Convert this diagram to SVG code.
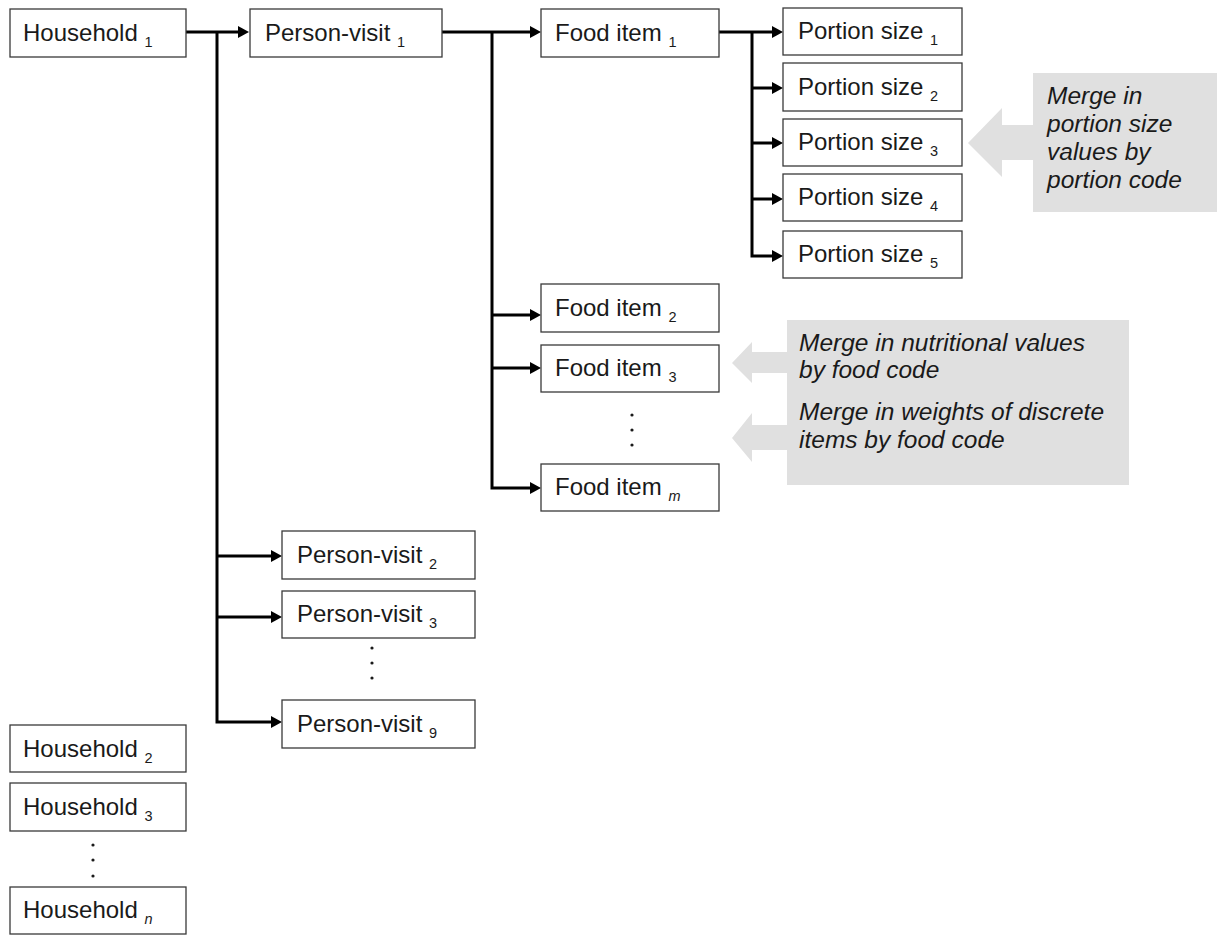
<svg xmlns="http://www.w3.org/2000/svg" width="1219" height="935" viewBox="0 0 1219 935">
<style>
.box{fill:#fff;stroke:#3a3a3a;stroke-width:1.3}
.t{font-family:"Liberation Sans",Arial,sans-serif;font-size:24px;fill:#1a1a1a}
.s{font-size:14.5px}
.it{font-family:"Liberation Sans",Arial,sans-serif;font-size:24.5px;font-style:italic;fill:#1a1a1a}
.c{fill:none;stroke:#000;stroke-width:3;stroke-linejoin:miter}
.g{fill:#e0e0e0}
.d{fill:#1a1a1a}
</style>
<defs>
<marker id="ah" viewBox="0 0 11 12" refX="0" refY="6" markerWidth="11" markerHeight="12" markerUnits="userSpaceOnUse" orient="auto">
<path d="M0,0 L11,6 L0,12 z" fill="#000"/>
</marker>
</defs>
<g id="connectors">
<path class="c" d="M186,32 H238" marker-end="url(#ah)"/>
<path class="c" d="M217,32 V722 H271" marker-end="url(#ah)"/>
<path class="c" d="M217,556 H271" marker-end="url(#ah)"/>
<path class="c" d="M217,617 H271" marker-end="url(#ah)"/>
<path class="c" d="M442,32 H530" marker-end="url(#ah)"/>
<path class="c" d="M492,32 V488 H530" marker-end="url(#ah)"/>
<path class="c" d="M492,315 H530" marker-end="url(#ah)"/>
<path class="c" d="M492,368 H530" marker-end="url(#ah)"/>
<path class="c" d="M719,32 H772" marker-end="url(#ah)"/>
<path class="c" d="M752,32 V256 H772" marker-end="url(#ah)"/>
<path class="c" d="M752,88 H772" marker-end="url(#ah)"/>
<path class="c" d="M752,143 H772" marker-end="url(#ah)"/>
<path class="c" d="M752,199 H772" marker-end="url(#ah)"/>
</g>
<g id="merge-portion">
<polygon class="g" points="1033,73 1217,73 1217,212 1033,212 1033,160 1002,160 1002,177 968,143 1002,108 1002,125 1033,125"/>
<text class="it" x="1047" y="104">Merge in</text>
<text class="it" x="1047" y="132">portion size</text>
<text class="it" x="1047" y="160">values by</text>
<text class="it" x="1047" y="188">portion code</text>
</g>
<g id="merge-food">
<polygon class="g" points="787,320 1129,320 1129,485 787,485 787,450 752,450 752,462 732,438 752,413 752,425 787,425 787,373 752,373 752,383 732,363 752,342 752,352 787,352"/>
<text class="it" x="799" y="351">Merge in nutritional values</text>
<text class="it" x="799" y="378">by food code</text>
<text class="it" x="799" y="420">Merge in weights of discrete</text>
<text class="it" x="799" y="448">items by food code</text>
</g>
<g id="household1"><rect class="box" x="10" y="9" width="176" height="48"/><text class="t" x="23" y="41">Household <tspan class="s" dy="6">1</tspan></text></g>
<g id="household2"><rect class="box" x="10" y="725" width="176" height="47"/><text class="t" x="23" y="757">Household <tspan class="s" dy="6">2</tspan></text></g>
<g id="household3"><rect class="box" x="10" y="783" width="176" height="48"/><text class="t" x="23" y="815">Household <tspan class="s" dy="6">3</tspan></text></g>
<g id="household-dots"><circle class="d" cx="93" cy="845" r="1.6"/><circle class="d" cx="93" cy="860" r="1.6"/><circle class="d" cx="93" cy="876" r="1.6"/></g>
<g id="householdn"><rect class="box" x="10" y="887" width="176" height="47"/><text class="t" x="23" y="918">Household <tspan class="s" dy="6" font-style="italic">n</tspan></text></g>
<g id="personvisit1"><rect class="box" x="250" y="9" width="192" height="48"/><text class="t" x="265" y="41">Person-visit <tspan class="s" dy="6">1</tspan></text></g>
<g id="personvisit2"><rect class="box" x="282" y="531" width="193" height="48"/><text class="t" x="297" y="563">Person-visit <tspan class="s" dy="6">2</tspan></text></g>
<g id="personvisit3"><rect class="box" x="282" y="591" width="193" height="47"/><text class="t" x="297" y="622">Person-visit <tspan class="s" dy="6">3</tspan></text></g>
<g id="personvisit-dots"><circle class="d" cx="372" cy="648" r="1.6"/><circle class="d" cx="372" cy="663" r="1.6"/><circle class="d" cx="372" cy="678" r="1.6"/></g>
<g id="personvisit9"><rect class="box" x="282" y="700" width="193" height="48"/><text class="t" x="297" y="732">Person-visit <tspan class="s" dy="6">9</tspan></text></g>
<g id="fooditem1"><rect class="box" x="541" y="9" width="178" height="48"/><text class="t" x="555" y="41">Food item <tspan class="s" dy="6">1</tspan></text></g>
<g id="fooditem2"><rect class="box" x="541" y="284" width="178" height="48"/><text class="t" x="555" y="316">Food item <tspan class="s" dy="6">2</tspan></text></g>
<g id="fooditem3"><rect class="box" x="541" y="345" width="178" height="47"/><text class="t" x="555" y="376">Food item <tspan class="s" dy="6">3</tspan></text></g>
<g id="fooditem-dots"><circle class="d" cx="632" cy="415" r="1.6"/><circle class="d" cx="632" cy="430" r="1.6"/><circle class="d" cx="632" cy="445" r="1.6"/></g>
<g id="fooditemm"><rect class="box" x="541" y="464" width="178" height="47"/><text class="t" x="555" y="495">Food item <tspan class="s" dy="6" font-style="italic">m</tspan></text></g>
<g id="portion1"><rect class="box" x="783" y="8" width="179" height="47"/><text class="t" x="798" y="39">Portion size <tspan class="s" dy="6">1</tspan></text></g>
<g id="portion2"><rect class="box" x="783" y="63" width="179" height="48"/><text class="t" x="798" y="95">Portion size <tspan class="s" dy="6">2</tspan></text></g>
<g id="portion3"><rect class="box" x="783" y="119" width="179" height="47"/><text class="t" x="798" y="150">Portion size <tspan class="s" dy="6">3</tspan></text></g>
<g id="portion4"><rect class="box" x="783" y="174" width="179" height="47"/><text class="t" x="798" y="205">Portion size <tspan class="s" dy="6">4</tspan></text></g>
<g id="portion5"><rect class="box" x="783" y="231" width="179" height="47"/><text class="t" x="798" y="262">Portion size <tspan class="s" dy="6">5</tspan></text></g>
</svg>
